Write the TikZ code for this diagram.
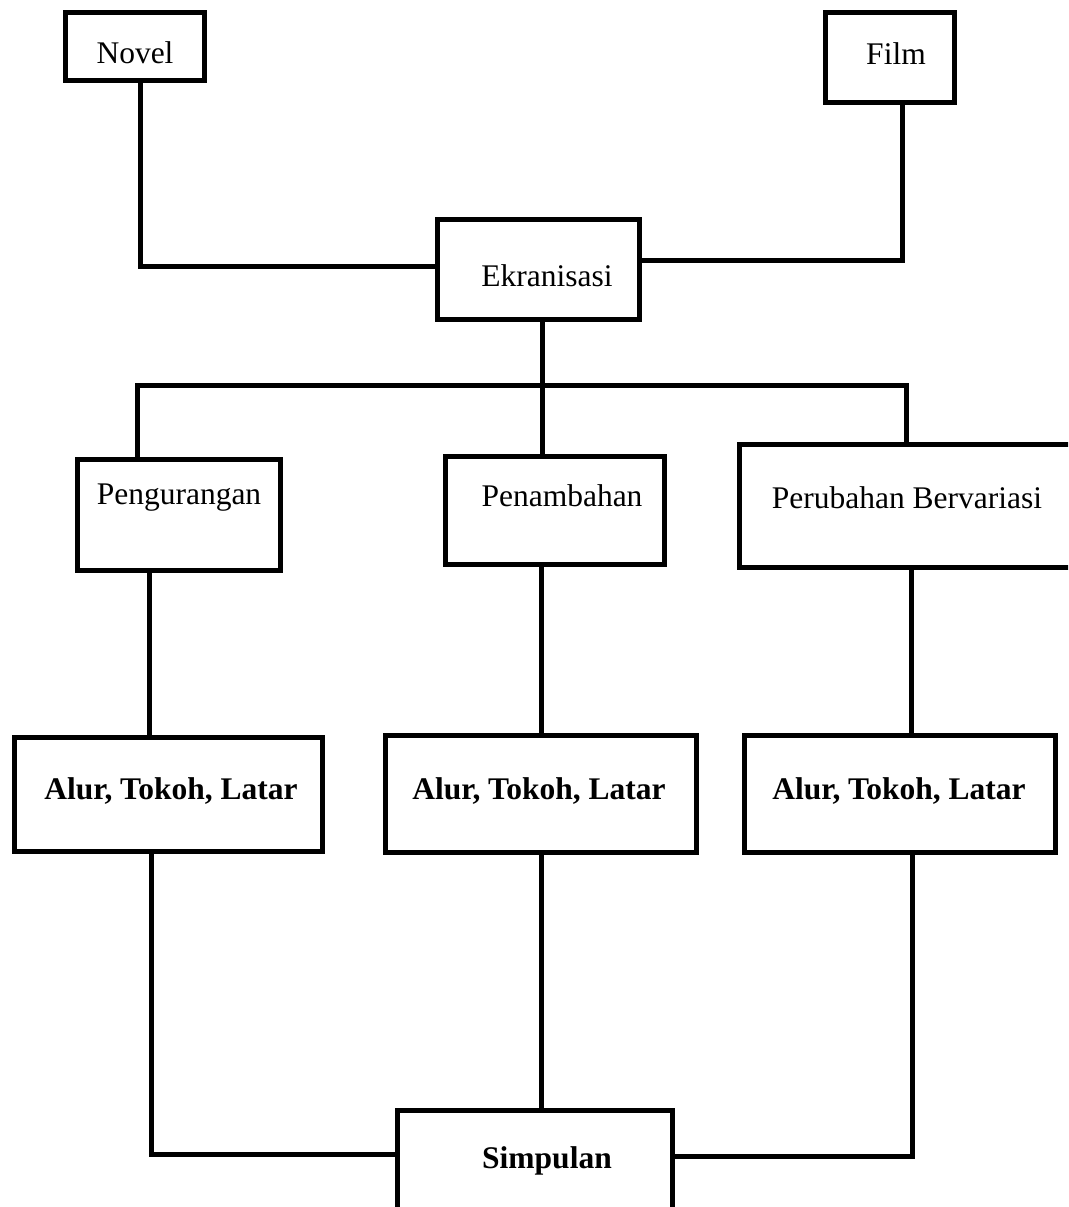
\documentclass[tikz,border=0pt]{standalone}
\usepackage{fontspec}
\setmainfont{Liberation Serif}

\begin{document}
\begin{tikzpicture}[
                x=1pt,y=-1pt,
                box/.style={draw,line width=5pt,rectangle,inner sep=0pt},
                lbl/.style={inner sep=0pt,font=\fontsize{31.5}{38}\selectfont},
                blbl/.style={inner sep=0pt,font=\fontsize{31.5}{38}\selectfont\bfseries},
                conn/.style={line width=5pt}
            ]
                \useasboundingbox (0,0) rectangle (1068,1207);
                \clip (0,0) rectangle (1068,1207);
                % boxes
                \node[box,minimum width=139,minimum height=68]  (novel) at (135,46.5)   {};
                \node[box,minimum width=129,minimum height=90]  (film)  at (890,57.5)   {};
                \node[box,minimum width=202,minimum height=100] (ekr)   at (538.5,269.5) {};
                \node[box,minimum width=203,minimum height=111] (peng)  at (179,515)    {};
                \node[box,minimum width=219,minimum height=108] (pen)   at (555,510.5)  {};
                \node[box,minimum width=335,minimum height=123] (perub) at (907,506)    {};
                \node[box,minimum width=308,minimum height=114] (alurA) at (168.5,794.5) {};
                \node[box,minimum width=311,minimum height=117] (alurB) at (541,794)    {};
                \node[box,minimum width=311,minimum height=117] (alurC) at (900,794)    {};
                \node[box,minimum width=275,minimum height=115] (simp)  at (535,1168)   {};
                % texts
                \node[lbl]  (novel-t) at (135,53)  {Novel};
                \node[lbl]  (film-t)  at (896,54)  {Film};
                \node[lbl]  (ekr-t)   at (547,276) {Ekranisasi};
                \node[lbl]  (peng-t)  at (179,498) {Pengurangan};
                \node[lbl]  (pen-t)   at (562,496) {Penambahan};
                \node[lbl]  (perub-t) at (907,498) {Perubahan Bervariasi};
                \node[blbl] (alurA-t) at (171,791) {Alur, Tokoh, Latar};
                \node[blbl] (alurB-t) at (539,791) {Alur, Tokoh, Latar};
                \node[blbl] (alurC-t) at (899,791) {Alur, Tokoh, Latar};
                \node[blbl] (simp-t)  at (547,1161) {Simpulan};
                % knees of the connectors
                \coordinate (novelknee) at (140,266);
                \coordinate (filmknee)  at (902,260);
                \coordinate (hub)       at (542,385);
                \coordinate (pengknee)  at (137,385);
                \coordinate (perknee)   at (906,385);
                \coordinate (colA)      at (149,0);
                \coordinate (colB)      at (541,0);
                \coordinate (colC)      at (911,0);
                \coordinate (leftknee)  at (151,1154);
                \coordinate (rightknee) at (912,1156);
                % connectors
                \draw[conn] (novel.south -| novelknee) -- (novelknee) -- (ekr.west |- novelknee);
                \draw[conn] (film.south -| filmknee) -- (filmknee) -- (ekr.east |- filmknee);
                \draw[conn] (ekr.south -| hub) -- (pen.north -| hub);
                \draw[conn] (peng.north -| pengknee) -- (pengknee) -- (perknee) -- (perub.north -| perknee);
                \draw[conn] (peng.south -| colA) -- (alurA.north -| colA);
                \draw[conn] (pen.south -| colB) -- (alurB.north -| colB);
                \draw[conn] (perub.south -| colC) -- (alurC.north -| colC);
                \draw[conn] (alurA.south -| leftknee) -- (leftknee) -- (simp.west |- leftknee);
                \draw[conn] (alurB.south) -- (simp.north -| alurB.south);
                \draw[conn] (alurC.south -| rightknee) -- (rightknee) -- (simp.east |- rightknee);
            \end{tikzpicture}
\end{document}
